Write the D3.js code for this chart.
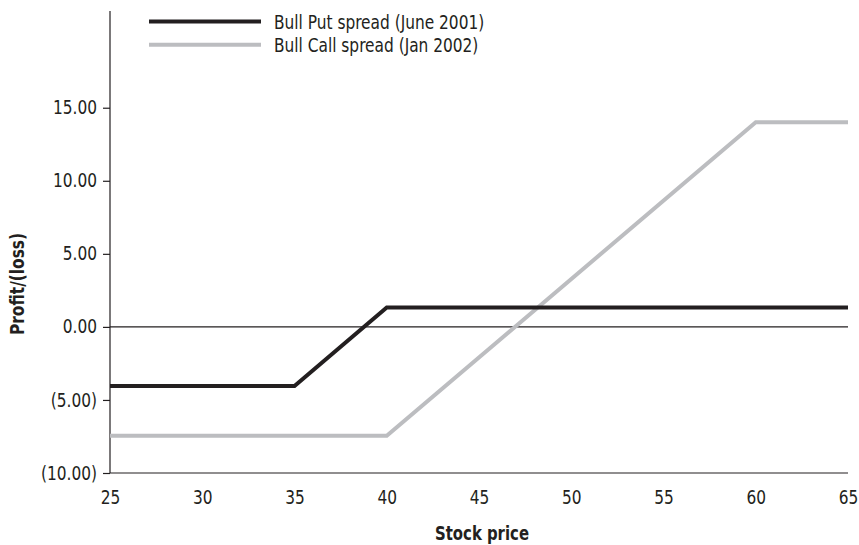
<!DOCTYPE html>
<html>
<head>
<meta charset="utf-8">
<script src="https://cdn.jsdelivr.net/npm/d3@7"></script>
<style>
  body { margin: 0; background: #fff; }
  svg text { font-family: 'Liberation Sans Narrow', 'DejaVu Sans Condensed', 'Arial Narrow', sans-serif; fill: #231f20; }
</style>
</head>
<body>
<svg id="chart" width="859" height="545"></svg>
<script>
// Daten
const stockPrices = [25, 30, 35, 40, 45, 50, 55, 60, 65];
const yTicks = [-10, -5, 0, 5, 10, 15];
const bullPutPrices = [25, 35, 40, 65];
const bullPutValues = [-4.05, -4.05, 1.33, 1.33];
const bullCallPrices = [25, 40, 60, 65];
const bullCallValues = [-7.45, -7.45, 14.0, 14.0];
const seriesNames = ['Bull Put spread (June 2001)', 'Bull Call spread (Jan 2002)'];
const seriesColors = ['#231f20', '#bcbdc0'];

const svg = d3.select('#chart');
const margin = { top: 11, left: 110, right: 11, bottom: 72 };
const width = 859 - margin.left - margin.right;
const height = 545 - margin.top - margin.bottom;

// Schrift schmaler machen (Condensed-Optik)
function condense(sel, factor) {
    sel.each(function() {
        const len = this.getComputedTextLength();
        d3.select(this)
            .attr('textLength', len * factor)
            .attr('lengthAdjust', 'spacingAndGlyphs');
    });
}

const g = svg.append('g')
    .attr('transform', `translate(${margin.left},${margin.top})`);

// Skalen
const xScale = d3.scaleLinear().domain([25, 65]).range([0, width]);
const yScale = d3.scaleLinear().domain([-10, 21.62]).range([height, 0]);

const fmt = v => v < 0 ? `(${d3.format('.2f')(-v)})` : d3.format('.2f')(v);

// Y-Achse
const yAxis = g.append('g')
    .call(d3.axisLeft(yScale).tickValues(yTicks).tickFormat(fmt).tickSize(7).tickPadding(6));
yAxis.select('.domain').attr('d', `M0,0V${height}`).attr('stroke', '#231f20').attr('stroke-width', 1.2);
yAxis.selectAll('.tick line').attr('stroke', '#231f20').attr('stroke-width', 1.2);
yAxis.selectAll('.tick text')
    .style('font-size', '19px')
    .attr('fill', '#231f20')
    .call(condense, 0.9);

// X-Achse
const xAxis = g.append('g')
    .attr('transform', `translate(0,${height})`)
    .call(d3.axisBottom(xScale).tickValues(stockPrices).tickSize(0).tickPadding(18));
xAxis.select('.domain').attr('d', `M0,0H${width}`).attr('stroke', '#231f20').attr('stroke-width', 1.2);
xAxis.selectAll('.tick text')
    .style('font-size', '19px')
    .attr('fill', '#231f20')
    .call(condense, 0.9);

// Nulllinie
g.append('line')
    .attr('x1', 0).attr('x2', width)
    .attr('y1', yScale(0)).attr('y2', yScale(0))
    .attr('stroke', '#231f20').attr('stroke-width', 1.2);

// Achsentitel
svg.append('text')
    .attr('transform', 'translate(24,284) rotate(-90)')
    .attr('text-anchor', 'middle')
    .style('font-size', '19px')
    .style('font-weight', 'bold')
    .attr('textLength', 102)
    .attr('lengthAdjust', 'spacingAndGlyphs')
    .text('Profit/(loss)');

svg.append('text')
    .attr('x', 482)
    .attr('y', 540)
    .attr('text-anchor', 'middle')
    .style('font-size', '19px')
    .style('font-weight', 'bold')
    .attr('textLength', 94)
    .attr('lengthAdjust', 'spacingAndGlyphs')
    .text('Stock price');

// Linien
const line = d3.line().x(d => xScale(d[0])).y(d => yScale(d[1]));
const series = [
    bullPutPrices.map((p, i) => [p, bullPutValues[i]]),
    bullCallPrices.map((p, i) => [p, bullCallValues[i]])
];

g.selectAll('.series')
    .data(series.slice().reverse())
    .enter()
    .append('path')
    .attr('fill', 'none')
    .attr('stroke', (d, i) => seriesColors[1 - i])
    .attr('stroke-width', 4)
    .attr('stroke-linejoin', 'miter')
    .attr('d', line);

// Legende
const legend = svg.append('g');
seriesNames.forEach((name, i) => {
    const y = 21.5 + i * 23.3;
    legend.append('line')
        .attr('x1', 149).attr('x2', 261)
        .attr('y1', y).attr('y2', y)
        .attr('stroke', seriesColors[i])
        .attr('stroke-width', 4);
    legend.append('text')
        .attr('x', 274)
        .attr('y', y + 7.2)
        .style('font-size', '19px')
        .text(name)
        .call(condense, 0.9);
});
</script>
</body>
</html>
